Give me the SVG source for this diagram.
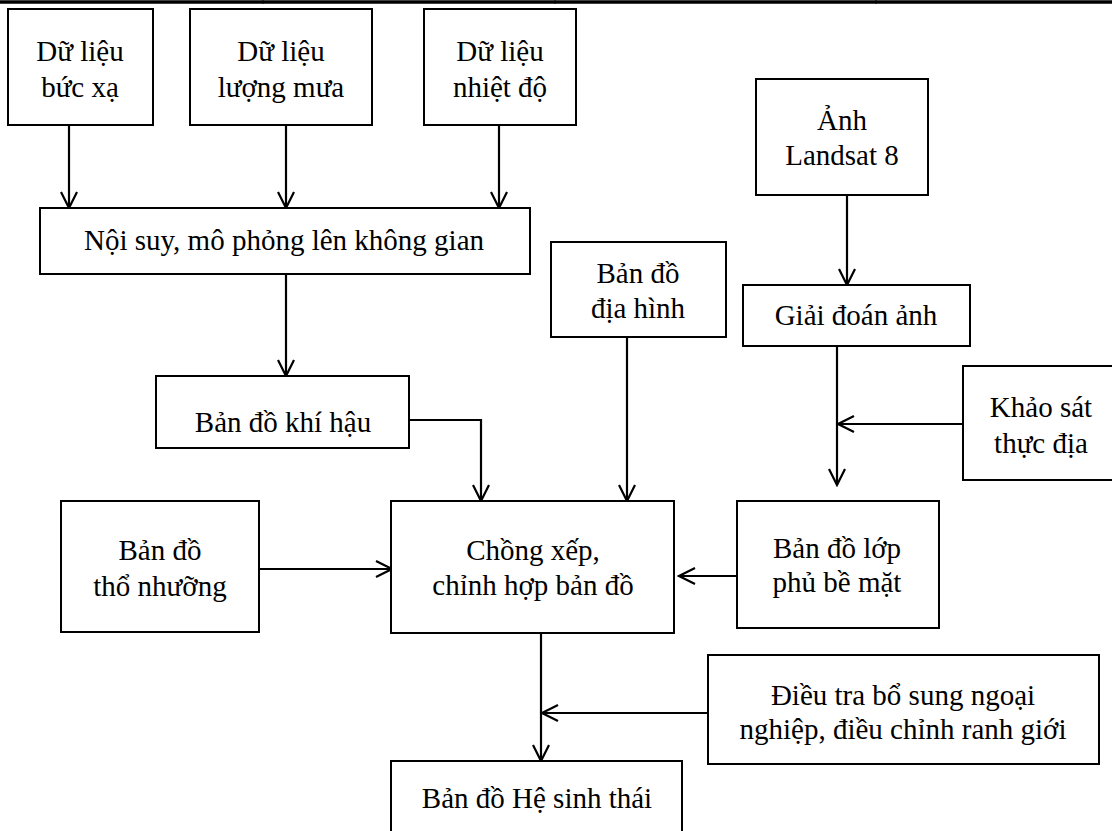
<svg xmlns="http://www.w3.org/2000/svg" width="1112" height="831" viewBox="0 0 1112 831">
<style>
.box{fill:#fff;stroke:#000;stroke-width:2}
.c{fill:none;stroke:#000;stroke-width:2.2}
.t{font-family:"Liberation Serif","Noto Serif","DejaVu Serif","Times New Roman",Times,serif;font-size:29px;text-anchor:middle;fill:#000}
</style>
<defs>
<marker id="ah" markerUnits="userSpaceOnUse" markerWidth="22" markerHeight="22" viewBox="-20 -11 22 22" refX="0" refY="0" orient="auto">
<path d="M-16,-8 L0,0 L-16,8" fill="none" stroke="#000" stroke-width="2.2"/>
</marker>
</defs>
<rect width="1112" height="831" fill="#fff"/>
<g id="topline">
<line x1="0" y1="2" x2="1112" y2="2" stroke="#000" stroke-width="3.5"/>
<line x1="263" y1="0" x2="263" y2="4" stroke="#000" stroke-width="1"/>
<line x1="555" y1="0" x2="555" y2="4" stroke="#000" stroke-width="1"/>
<line x1="876" y1="0" x2="876" y2="4" stroke="#000" stroke-width="1"/>
</g>
<g id="connectors">
<line class="c" x1="69" y1="125" x2="69" y2="208" marker-end="url(#ah)"/>
<line class="c" x1="286" y1="125" x2="286" y2="208" marker-end="url(#ah)"/>
<line class="c" x1="499" y1="125" x2="499" y2="208" marker-end="url(#ah)"/>
<line class="c" x1="286" y1="274" x2="286" y2="376" marker-end="url(#ah)"/>
<polyline class="c" points="409,420 481,420 481,501" marker-end="url(#ah)"/>
<line class="c" x1="627" y1="337" x2="627" y2="501" marker-end="url(#ah)"/>
<line class="c" x1="847" y1="195" x2="847" y2="285" marker-end="url(#ah)"/>
<line class="c" x1="837" y1="346" x2="837" y2="485" marker-end="url(#ah)"/>
<line class="c" x1="963" y1="424" x2="838" y2="424" marker-end="url(#ah)"/>
<line class="c" x1="257" y1="569" x2="392" y2="569" marker-end="url(#ah)"/>
<line class="c" x1="737" y1="576" x2="679" y2="576" marker-end="url(#ah)"/>
<line class="c" x1="541" y1="633" x2="541" y2="761" marker-end="url(#ah)"/>
<line class="c" x1="708" y1="713" x2="542" y2="713" marker-end="url(#ah)"/>
</g>
<g id="n1"><rect class="box" x="8" y="9" width="145" height="116"/><text class="t" x="80" y="61">Dữ liệu</text><text class="t" x="80" y="97">bức xạ</text></g>
<g id="n2"><rect class="box" x="190" y="9" width="182" height="116"/><text class="t" x="281" y="61">Dữ liệu</text><text class="t" x="281" y="97">lượng mưa</text></g>
<g id="n3"><rect class="box" x="424" y="9" width="152" height="116"/><text class="t" x="500" y="61">Dữ liệu</text><text class="t" x="500" y="97">nhiệt độ</text></g>
<g id="n4"><rect class="box" x="40" y="208" width="490" height="66"/><text class="t" x="284" y="250">Nội suy, mô phỏng lên không gian</text></g>
<g id="n5"><rect class="box" x="756" y="79" width="172" height="116"/><text class="t" x="842" y="130">Ảnh</text><text class="t" x="842" y="165">Landsat 8</text></g>
<g id="n6"><rect class="box" x="743" y="285" width="227" height="61"/><text class="t" x="856" y="325">Giải đoán ảnh</text></g>
<g id="n7"><rect class="box" x="551" y="242" width="175" height="95"/><text class="t" x="638" y="283">Bản đồ</text><text class="t" x="638" y="318">địa hình</text></g>
<g id="n8"><rect class="box" x="963" y="366" width="160" height="114"/><text class="t" x="1041" y="417">Khảo sát</text><text class="t" x="1041" y="453">thực địa</text></g>
<g id="n9"><rect class="box" x="156" y="376" width="253" height="72"/><text class="t" x="283" y="432">Bản đồ khí hậu</text></g>
<g id="n10"><rect class="box" x="61" y="501" width="198" height="131"/><text class="t" x="160" y="560">Bản đồ</text><text class="t" x="160" y="596">thổ nhưỡng</text></g>
<g id="n11"><rect class="box" x="391" y="501" width="283" height="132"/><text class="t" x="533" y="560">Chồng xếp,</text><text class="t" x="533" y="595">chỉnh hợp bản đồ</text></g>
<g id="n12"><rect class="box" x="737" y="501" width="202" height="127"/><text class="t" x="837" y="558">Bản đồ lớp</text><text class="t" x="837" y="592">phủ bề mặt</text></g>
<g id="n13"><rect class="box" x="708" y="655" width="391" height="109"/><text class="t" x="903" y="705">Điều tra bổ sung ngoại</text><text class="t" x="903" y="739">nghiệp, điều chỉnh ranh giới</text></g>
<g id="n14"><rect class="box" x="391" y="761" width="291" height="80"/><text class="t" x="537" y="808">Bản đồ Hệ sinh thái</text></g>
</svg>
